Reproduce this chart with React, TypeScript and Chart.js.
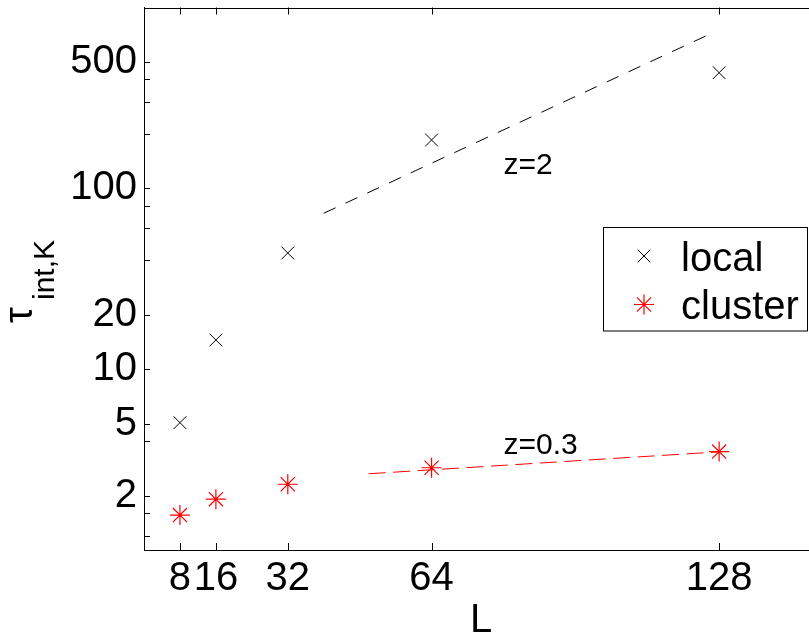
import React, { useEffect, useRef } from 'react';
import { Chart, registerables } from 'chart.js';
import { drawPoint } from 'chart.js/helpers';

Chart.register(...registerables);

// ---- data ----
const L_VALUES = [8, 16, 32, 64, 128];
const LOCAL_TAU = [5.06, 14.5, 43.9, 185, 436];
const CLUSTER_TAU = [1.56, 1.91, 2.31, 2.85, 3.5];

const FIT_LOCAL_L = [40, 127];
const FIT_LOCAL_TAU = [72.8, 733];
const FIT_CLUSTER_L = [50, 128];
const FIT_CLUSTER_TAU = [2.64, 3.49];

const X_TICKS = [8, 16, 32, 64, 128];
const Y_TICKS = [1.2, 1.6, 2, 4, 5, 10, 20, 40, 60, 80, 100, 200, 300, 400, 500];
const Y_LABELED = [2, 5, 10, 20, 100, 500];

const ANNOTATIONS = [
  { text: 'z=2', x: 80, y: 120 },
  { text: 'z=0.3', x: 80, y: 3.4 },
];

const FONT = '"Liberation Sans", Arial, Helvetica, sans-serif';

const customPlugin = {
  id: 'matlabStyle',
  afterDatasetsDraw(chart: any) {
    const { ctx, chartArea, scales } = chart;
    const xs = scales.x;
    const ys = scales.y;
    ctx.save();
    ctx.strokeStyle = '#000';
    ctx.lineWidth = 1;

    // top border
    ctx.beginPath();
    ctx.moveTo(chartArea.left, Math.round(chartArea.top) + 0.5);
    ctx.lineTo(chartArea.right + 20, Math.round(chartArea.top) + 0.5);
    ctx.stroke();

    // inner ticks x (bottom + top)
    const xTickLen = 7;
    xs.ticks.forEach((t: any) => {
      const px = Math.round(xs.getPixelForValue(t.value)) + 0.5;
      ctx.beginPath();
      ctx.moveTo(px, chartArea.bottom);
      ctx.lineTo(px, chartArea.bottom - xTickLen);
      ctx.moveTo(px, chartArea.top);
      ctx.lineTo(px, chartArea.top + xTickLen);
      ctx.stroke();
    });
    // inner ticks y (left)
    const yTickLen = 6;
    ys.ticks.forEach((t: any) => {
      const py = Math.round(ys.getPixelForValue(t.value)) + 0.5;
      ctx.beginPath();
      ctx.moveTo(chartArea.left, py);
      ctx.lineTo(chartArea.left + yTickLen, py);
      ctx.stroke();
    });

    // annotations
    ctx.fillStyle = '#000';
    ctx.font = `30px ${FONT}`;
    ctx.textAlign = 'left';
    ctx.textBaseline = 'alphabetic';
    ANNOTATIONS.forEach((a) => {
      ctx.fillText(a.text, xs.getPixelForValue(a.x), ys.getPixelForValue(a.y));
    });

    // legend
    const lx = 603.5, ly = 227.5, lw = 204, lh = 103.5;
    ctx.fillStyle = '#fff';
    ctx.fillRect(lx, ly, lw, lh);
    ctx.strokeStyle = '#000';
    ctx.strokeRect(lx, ly, lw, lh);
    const items = chart.data.datasets.filter((d: any) => d.label);
    items.forEach((d: any, i: number) => {
      const cy = 256 + i * 48.5;
      ctx.strokeStyle = d.borderColor;
      ctx.fillStyle = d.borderColor;
      ctx.lineWidth = d.pointBorderWidth;
      drawPoint(ctx, { pointStyle: d.pointStyle, radius: d.pointRadius, rotation: 0, borderWidth: d.pointBorderWidth }, 644, cy);
      ctx.fillStyle = '#000';
      ctx.font = `40px ${FONT}`;
      ctx.textAlign = 'left';
      ctx.textBaseline = 'alphabetic';
      ctx.fillText(d.label, 681, cy + 14.5);
    });

    // x title
    ctx.fillStyle = '#000';
    ctx.font = `40px ${FONT}`;
    ctx.textAlign = 'center';
    ctx.fillText('L', 481, 632);

    // y title (rotated) tau_{int,K}
    ctx.save();
    ctx.translate(32, 323);
    ctx.rotate(-Math.PI / 2);
    ctx.textAlign = 'left';
    ctx.font = `40px ${FONT}`;
    ctx.fillText('τ', 0, 0);
    ctx.restore();
    ctx.save();
    ctx.translate(54, 300);
    ctx.rotate(-Math.PI / 2);
    ctx.textAlign = 'left';
    ctx.font = `30px ${FONT}`;
    ctx.fillText('int,K', 0, 0);
    ctx.restore();

    ctx.restore();
  },
};

export default function App() {
  const ref = useRef<HTMLCanvasElement | null>(null);
  useEffect(() => {
    document.body.style.margin = '0';
    document.documentElement.style.overflow = 'hidden';
    if (!ref.current) return;
    const chart = new Chart(ref.current, {
      type: 'scatter',
      data: {
        datasets: [
          {
            label: 'local',
            data: L_VALUES.map((x, i) => ({ x, y: LOCAL_TAU[i] })),
            pointStyle: 'crossRot',
            pointRadius: 9,
            pointBorderWidth: 1,
            borderColor: '#000',
            backgroundColor: '#000',
            showLine: false,
            order: 0,
          } as any,
          {
            label: 'cluster',
            data: L_VALUES.map((x, i) => ({ x, y: CLUSTER_TAU[i] })),
            pointStyle: 'star',
            pointRadius: 10,
            pointBorderWidth: 1.2,
            borderColor: '#ff0000',
            backgroundColor: '#ff0000',
            showLine: false,
            order: 0,
          } as any,
          {
            label: '',
            data: FIT_LOCAL_L.map((x, i) => ({ x, y: FIT_LOCAL_TAU[i] })),
            showLine: true,
            borderColor: '#000',
            borderWidth: 1,
            borderDash: [13, 11],
            pointRadius: 0,
            order: 1,
          } as any,
          {
            label: '',
            data: FIT_CLUSTER_L.map((x, i) => ({ x, y: FIT_CLUSTER_TAU[i] })),
            showLine: true,
            borderColor: '#ff0000',
            borderWidth: 1,
            borderDash: [17, 7.5],
            pointRadius: 0,
            order: 1,
          } as any,
        ],
      },
      options: {
        animation: false,
        responsive: false,
        devicePixelRatio: 1,
        layout: { autoPadding: false, padding: { top: 7.5, left: 0, right: 0, bottom: 0 } },
        plugins: { legend: { display: false }, tooltip: { enabled: false }, title: { display: false } },
        scales: {
          x: {
            type: 'linear',
            min: 0,
            max: 148,
            afterBuildTicks: (s: any) => {
              s.ticks = X_TICKS.map((v) => ({ value: v }));
            },
            afterFit: (s: any) => {
              s.height = 83;
              s.paddingLeft = 0;
              s.paddingRight = 0;
            },
            grid: { display: false, drawTicks: false },
            border: { display: true, color: '#000', width: 1 },
            ticks: {
              font: { family: FONT, size: 40 },
              color: '#000',
              padding: 5,
              maxRotation: 0,
              minRotation: 0,
              autoSkip: false,
              callback: (v: any) => String(v),
            },
          },
          y: {
            type: 'logarithmic',
            min: 1,
            max: 1000,
            afterBuildTicks: (s: any) => {
              s.ticks = Y_TICKS.map((v) => ({ value: v }));
            },
            afterFit: (s: any) => {
              s.width = 144;
              s.paddingTop = 0;
              s.paddingBottom = 0;
            },
            grid: { display: false, drawTicks: false },
            border: { display: true, color: '#000', width: 1 },
            ticks: {
              font: { family: FONT, size: 40 },
              color: '#000',
              padding: 7,
              autoSkip: false,
              callback: (v: any) => (Y_LABELED.includes(Number(v)) ? String(v) : ''),
            },
          },
        },
      } as any,
      plugins: [customPlugin],
    });
    return () => chart.destroy();
  }, []);

  return (
    <div style={{ position: 'fixed', left: 0, top: 0, width: 809, height: 633, background: '#fff', overflow: 'hidden' }}>
      <canvas ref={ref} width={809} height={633} style={{ display: 'block' }} />
    </div>
  );
}
